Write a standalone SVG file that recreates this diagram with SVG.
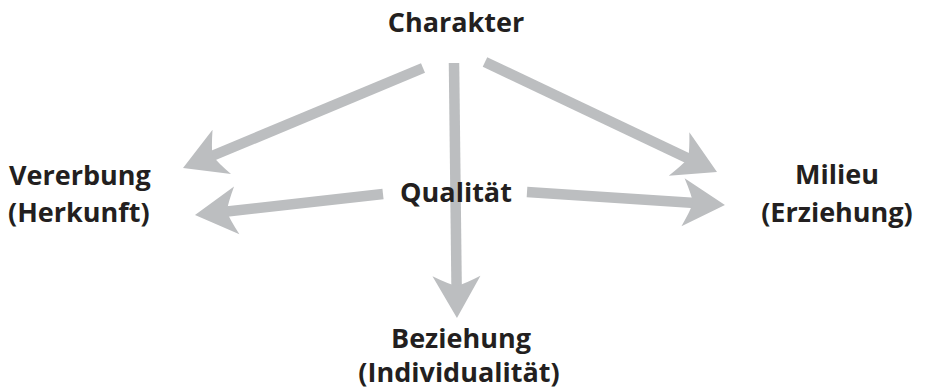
<svg xmlns="http://www.w3.org/2000/svg" width="925" height="390" viewBox="0 0 925 390">
<style>
.t{font-family:"Open Sans","Noto Sans","Liberation Sans",sans-serif;font-weight:bold;font-size:27px;fill:#231f20}
.c{text-anchor:middle}
.a{stroke:#bcbec0;stroke-width:10.5;fill:none;marker-end:url(#ah)}
</style>
<defs>
<marker id="ah" markerUnits="userSpaceOnUse" orient="auto" refX="12" refY="0" markerWidth="60" markerHeight="60" viewBox="-5 -30 60 60" overflow="visible">
<path d="M42,0 L0,-24 Q8,-8 10,0 Q8,8 0,24 Z" fill="#bcbec0"/>
</marker>
</defs>
<rect width="925" height="390" fill="#ffffff"/>
<g id="connectors">
<line class="a" x1="423" y1="68" x2="210.7" y2="156.5"/>
<line class="a" x1="383" y1="194" x2="224.8" y2="211.7"/>
<line class="a" x1="454" y1="63" x2="456.6" y2="288"/>
<line class="a" x1="485" y1="62" x2="689.9" y2="159.2"/>
<line class="a" x1="527" y1="192" x2="695" y2="203"/>
</g>
<g id="charakter"><text class="t c" x="456" y="32">Charakter</text></g>
<g id="qualitaet"><text class="t c" x="456" y="202">Qualität</text></g>
<g id="vererbung"><text class="t" x="9" y="185">Vererbung</text><text class="t" x="8" y="222">(Herkunft)</text></g>
<g id="milieu"><text class="t c" x="837" y="184">Milieu</text><text class="t c" x="837" y="222">(Erziehung)</text></g>
<g id="beziehung"><text class="t c" x="461" y="348">Beziehung</text><text class="t c" x="459" y="382">(Individualität)</text></g>
</svg>
